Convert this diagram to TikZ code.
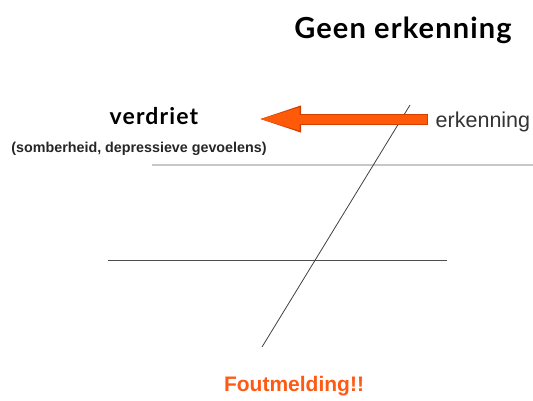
\documentclass[tikz,border=0pt]{standalone}
\usepackage{fontspec}
\setmainfont{Liberation Sans}
\newfontfamily\titlefont{Lato}
\usetikzlibrary{arrows.meta}
\definecolor{arroworange}{HTML}{FF5A0A}
\definecolor{arrowedge}{HTML}{D04000}
\definecolor{errororange}{HTML}{FF5A14}

\begin{document}
\begin{tikzpicture}[x=1pt, y=-1pt, thick,
    head/.style = {font=\titlefont\bfseries\fontsize{29}{33}\selectfont\addfontfeatures{LetterSpace=4}},
    label/.style = {font=\titlefont\bfseries\fontsize{23}{26}\selectfont\addfontfeatures{LetterSpace=5}},
    note/.style = {font=\bfseries\fontsize{14.3}{16}\selectfont, text=black!85},
    word/.style = {font=\fontsize{21.5}{24}\selectfont, text=black!80},
    error/.style = {font=\bfseries\fontsize{21}{24}\selectfont, text=errororange},
    bar/.style = {line width=1pt, black!70}]
		\useasboundingbox (0,0) rectangle (533,400);
		\node[head] (title) at (403,30) {Geen erkenning};
		\node[label] (verdriet) at (154,116) {verdriet};
		\node[note] (oorzaak) at (139,149) {(somberheid, depressieve gevoelens)};
		\node[word, anchor=west] (erkenning) at (432,122) {erkenning};
		\node[error] (fout) at (294,386) {Foutmelding!!};
		\coordinate (tip) at (255,119);
		\coordinate (grijs1) at (152,165);
		\coordinate (grijs2) at (533,165);
		\coordinate (lijn1) at (108,260);
		\coordinate (lijn2) at (447,260);
		\coordinate (schuin1) at (410,105);
		\coordinate (schuin2) at (262,347);
		\draw[line width=2.5pt, black!22] (grijs1) -- (grijs2);
		\draw[bar] (lijn1) -- (lijn2);
		\draw[line width=0.8pt, black!75] (schuin1) -- (schuin2);
		% pijl van erkenning naar verdriet
		\draw[line width=11pt, arrowedge, -{Triangle[length=46pt, width=23pt]}] ([xshift=-4pt]erkenning.west |- tip) -- (tip);
		\draw[line width=9pt, arroworange, -{Triangle[length=43pt, width=20pt]}] ([xshift=-4.6pt]erkenning.west |- tip) -- ([xshift=1.6pt]tip);
		\end{tikzpicture}
\end{document}
